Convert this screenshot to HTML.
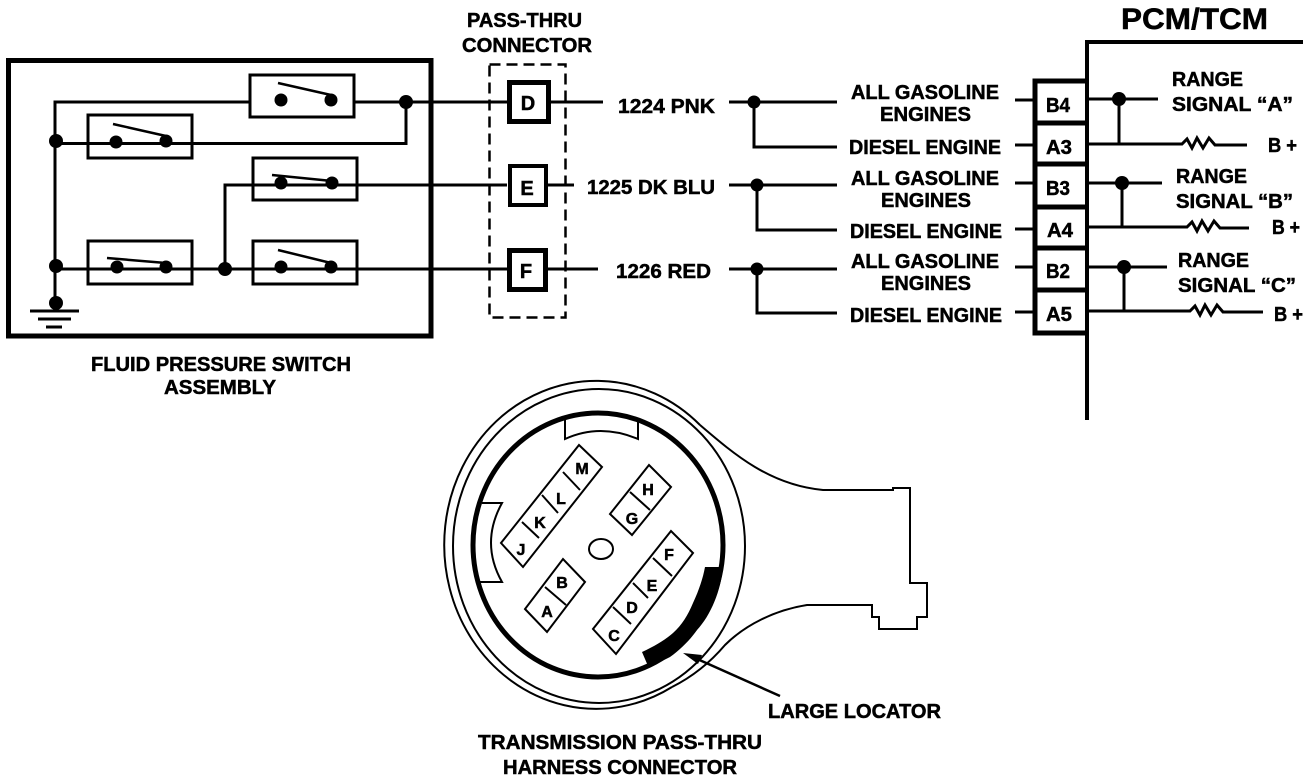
<!DOCTYPE html>
<html><head><meta charset="utf-8"><style>
html,body{margin:0;padding:0;background:#fff}
svg{display:block}
text{font-family:"Liberation Sans",sans-serif;font-weight:bold;font-size:20px;fill:#000;stroke:#000;stroke-width:.5px}
</style></head><body>
<svg width="1312" height="782" viewBox="0 0 1312 782" xmlns="http://www.w3.org/2000/svg">
<g fill="none" stroke="#000" stroke-width="3">
<rect x="8.5" y="60.5" width="422.5" height="275.5" stroke-width="5"/>
<path d="M55 303V102H250M354 102H507M406 102V143.500H55M192 143.500H88"/>
<path d="M55 269H507M225 269V185H507"/>
<rect x="250" y="75" width="104" height="42"/>
<rect x="88" y="115" width="104" height="43"/>
<rect x="253" y="158" width="104" height="42"/>
<rect x="88" y="241" width="104" height="43"/>
<rect x="253" y="241" width="104" height="43"/>
<path d="M278 83L331 95M113 124L166 136M272 175L332 181M107 258L166 263M278 250L331 263" stroke-width="2.500"/>
<path d="M30 311H79M38 319H71M46 327H62"/>
<rect x="489.500" y="64.500" width="76" height="253" stroke-width="2.500" stroke-dasharray="11 6"/>
<rect x="509.500" y="82.500" width="39" height="39" stroke-width="5" fill="#fff"/>
<rect x="510" y="166" width="36" height="39" stroke-width="4" fill="#fff"/>
<rect x="509.500" y="250.500" width="36" height="39" stroke-width="5" fill="#fff"/>
<path d="M551 102H603M548 185H574M548 269H598"/>
<path d="M729 102H837M754 102V147H837M729 185H837M757 185V230H837M729 269H837M757 269V313H837"/>
<path d="M1015 100H1033M1015 145H1033M1015 183H1033M1015 229H1033M1015 267H1033M1015 312H1033"/>
<path d="M1087 420V42H1303" stroke-width="4"/>
<path d="M1087 81H1035V333H1087" stroke-width="5"/>
<path d="M1035 123H1087M1035 164H1087M1035 207H1087M1035 248H1087M1035 290H1087" stroke-width="5"/>
<path d="M1087 99H1158M1119 99V144M1087 144H1182l5 -5 5 9 5 -10 6 10 6 -10 6 7H1247"/>
<path d="M1087 183H1162M1122 183V227M1087 227H1187l5 -5 5 9 5 -10 6 10 6 -10 6 7H1249"/>
<path d="M1087 267H1167M1124 267V311M1087 311H1190l5 -5 5 9 5 -10 6 10 6 -10 6 7H1263"/>
</g>
<g fill="#000">
<circle cx="281" cy="100" r="6.500"/><circle cx="331" cy="100" r="6.500"/>
<circle cx="116" cy="142" r="6.500"/><circle cx="166" cy="141" r="6.500"/>
<circle cx="281" cy="183" r="6.500"/><circle cx="332" cy="183" r="6.500"/>
<circle cx="117" cy="267" r="6.500"/><circle cx="166" cy="267" r="6.500"/>
<circle cx="281" cy="267" r="6.500"/><circle cx="331" cy="267" r="6.500"/>
<circle cx="406" cy="102" r="7"/><circle cx="56" cy="141" r="7"/><circle cx="56" cy="266" r="7"/><circle cx="225" cy="269" r="7"/><circle cx="56" cy="303" r="7"/>
<circle cx="754" cy="102" r="6.500"/><circle cx="757" cy="185" r="6.500"/><circle cx="757" cy="269" r="6.500"/>
<circle cx="1119" cy="99" r="7"/><circle cx="1122" cy="183" r="7"/><circle cx="1124" cy="267" r="7"/>
</g>
<g fill="none" stroke="#000" stroke-width="2">
<path d="M700 425A152 164 0 1 0 672 687"/>
<path d="M700 425C735 455 770 485 823 490H893V488H910V583H927V617H917V629H879V617H872V605H807C775 610 745 625 725 645C708 665 690 678 672 687"/>
<ellipse cx="599" cy="546" rx="146" ry="157"/>
<ellipse cx="598" cy="545" rx="125" ry="132" stroke-width="5"/>
<path d="M565 418V439Q600 423 638 439V422"/>
<path d="M482 503H502Q480 543 502 582H480"/>
<path d="M501 543L523 567L602 467L579 445ZM522 522L539 538M542 495L558 513M563 472L580 490"/>
<path d="M610 514L632 535L671 487L649 465ZM630 492L650 510"/>
<path d="M525 609L547 632L585 582L563 559ZM545 587L566 605"/>
<path d="M593 629L616 654L693 553L671 531ZM613 607L631 624M633 583L648 598M653 558L672 576"/>
<ellipse cx="601" cy="549" rx="12" ry="10"/>
<path d="M695 658L780 696" stroke-width="2.500"/>
</g>
<path d="M723 567C721 590 711 615 697 630C690 640 680 650 670 657C662 661 655 664 648 666L642 652C655 646 665 640 673 633C682 625 688 615 693 603C699 590 703 578 705 567Z" fill="#000"/>
<path d="M683 653L702 655L698 664Z" fill="#000"/>
<text x="467" y="27" textLength="115" lengthAdjust="spacingAndGlyphs">PASS-THRU</text>
<text x="462" y="52" textLength="130" lengthAdjust="spacingAndGlyphs">CONNECTOR</text>
<text x="91" y="371" textLength="260" lengthAdjust="spacingAndGlyphs">FLUID PRESSURE SWITCH</text>
<text x="164" y="394" textLength="112" lengthAdjust="spacingAndGlyphs">ASSEMBLY</text>
<text x="528" y="110" text-anchor="middle">D</text>
<text x="527" y="195" text-anchor="middle">E</text>
<text x="526" y="278" text-anchor="middle">F</text>
<text x="618" y="113" textLength="97" lengthAdjust="spacingAndGlyphs">1224 PNK</text>
<text x="587" y="194" textLength="128" lengthAdjust="spacingAndGlyphs">1225 DK BLU</text>
<text x="616" y="278" textLength="95" lengthAdjust="spacingAndGlyphs">1226 RED</text>
<text x="851" y="99" textLength="148" lengthAdjust="spacingAndGlyphs">ALL GASOLINE</text>
<text x="880" y="121" textLength="91" lengthAdjust="spacingAndGlyphs">ENGINES</text>
<text x="849" y="154" textLength="152" lengthAdjust="spacingAndGlyphs">DIESEL ENGINE</text>
<text x="851" y="185" textLength="148" lengthAdjust="spacingAndGlyphs">ALL GASOLINE</text>
<text x="881" y="207" textLength="90" lengthAdjust="spacingAndGlyphs">ENGINES</text>
<text x="850" y="238" textLength="152" lengthAdjust="spacingAndGlyphs">DIESEL ENGINE</text>
<text x="851" y="268" textLength="148" lengthAdjust="spacingAndGlyphs">ALL GASOLINE</text>
<text x="881" y="290" textLength="90" lengthAdjust="spacingAndGlyphs">ENGINES</text>
<text x="850" y="322" textLength="152" lengthAdjust="spacingAndGlyphs">DIESEL ENGINE</text>
<text x="1121" y="29" style="font-size:30px" textLength="147" lengthAdjust="spacingAndGlyphs">PCM/TCM</text>
<text x="1046" y="112" textLength="24" lengthAdjust="spacingAndGlyphs">B4</text>
<text x="1046" y="154" textLength="26" lengthAdjust="spacingAndGlyphs">A3</text>
<text x="1046" y="195" textLength="24" lengthAdjust="spacingAndGlyphs">B3</text>
<text x="1047" y="237" textLength="26" lengthAdjust="spacingAndGlyphs">A4</text>
<text x="1046" y="278" textLength="24" lengthAdjust="spacingAndGlyphs">B2</text>
<text x="1046" y="321" textLength="26" lengthAdjust="spacingAndGlyphs">A5</text>
<text x="1172" y="86" textLength="71" lengthAdjust="spacingAndGlyphs">RANGE</text>
<text x="1172" y="111" textLength="121" lengthAdjust="spacingAndGlyphs">SIGNAL “A”</text>
<text x="1268" y="152" textLength="29" lengthAdjust="spacingAndGlyphs">B +</text>
<text x="1176" y="183" textLength="71" lengthAdjust="spacingAndGlyphs">RANGE</text>
<text x="1176" y="208" textLength="117" lengthAdjust="spacingAndGlyphs">SIGNAL “B”</text>
<text x="1272" y="234" textLength="28" lengthAdjust="spacingAndGlyphs">B +</text>
<text x="1178" y="267" textLength="71" lengthAdjust="spacingAndGlyphs">RANGE</text>
<text x="1178" y="292" textLength="118" lengthAdjust="spacingAndGlyphs">SIGNAL “C”</text>
<text x="1274" y="321" textLength="29" lengthAdjust="spacingAndGlyphs">B +</text>
<g>
<text x="582" y="474" text-anchor="middle" style="font-size:16px">M</text>
<text x="561" y="504" text-anchor="middle" style="font-size:16px">L</text>
<text x="540" y="528" text-anchor="middle" style="font-size:16px">K</text>
<text x="521" y="555" text-anchor="middle" style="font-size:16px">J</text>
<text x="648" y="495" text-anchor="middle" style="font-size:16px">H</text>
<text x="632" y="524" text-anchor="middle" style="font-size:16px">G</text>
<text x="562" y="588" text-anchor="middle" style="font-size:16px">B</text>
<text x="547" y="617" text-anchor="middle" style="font-size:16px">A</text>
<text x="669" y="560" text-anchor="middle" style="font-size:16px">F</text>
<text x="652" y="591" text-anchor="middle" style="font-size:16px">E</text>
<text x="632" y="613" text-anchor="middle" style="font-size:16px">D</text>
<text x="614" y="641" text-anchor="middle" style="font-size:16px">C</text>
</g>
<text x="768" y="718" textLength="173" lengthAdjust="spacingAndGlyphs">LARGE LOCATOR</text>
<text x="478" y="749" textLength="284" lengthAdjust="spacingAndGlyphs">TRANSMISSION PASS-THRU</text>
<text x="503" y="774" textLength="234" lengthAdjust="spacingAndGlyphs">HARNESS CONNECTOR</text>
</svg>
</body></html>
